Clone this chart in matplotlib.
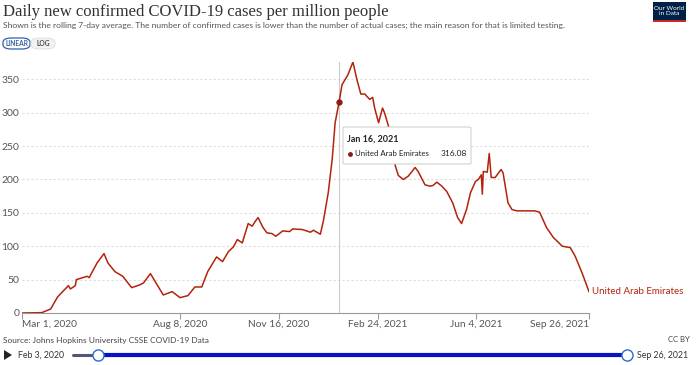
import matplotlib
matplotlib.use("Agg")
import matplotlib.pyplot as plt
from matplotlib.patches import FancyBboxPatch, Rectangle, Polygon
import pandas as pd

dates = [
    "2020-03-01", "2020-03-21", "2020-03-30", "2020-04-06", "2020-04-17", "2020-04-19",
    "2020-04-24", "2020-04-25", "2020-05-06", "2020-05-08", "2020-05-16", "2020-05-23",
    "2020-05-27", "2020-06-03", "2020-06-11", "2020-06-20", "2020-06-28", "2020-07-02",
    "2020-07-09", "2020-07-22", "2020-07-31", "2020-08-08", "2020-08-16", "2020-08-23",
    "2020-08-30", "2020-09-05", "2020-09-14", "2020-09-20", "2020-09-26", "2020-10-01",
    "2020-10-05", "2020-10-10", "2020-10-16", "2020-10-20", "2020-10-23", "2020-10-26",
    "2020-10-31", "2020-11-04", "2020-11-09", "2020-11-13", "2020-11-20", "2020-11-27",
    "2020-11-30", "2020-12-10", "2020-12-18", "2020-12-21", "2020-12-28", "2020-12-31",
    "2021-01-05", "2021-01-09", "2021-01-12", "2021-01-16", "2021-01-19", "2021-01-25",
    "2021-01-30", "2021-02-03", "2021-02-07", "2021-02-11", "2021-02-16", "2021-02-19",
    "2021-02-21", "2021-02-25", "2021-03-01", "2021-03-03", "2021-03-07", "2021-03-10",
    "2021-03-14", "2021-03-17", "2021-03-22", "2021-03-27", "2021-04-03", "2021-04-06",
    "2021-04-13", "2021-04-18", "2021-04-21", "2021-04-25", "2021-04-30", "2021-05-05",
    "2021-05-11", "2021-05-16", "2021-05-20", "2021-05-25", "2021-05-29", "2021-06-03",
    "2021-06-06", "2021-06-09", "2021-06-10", "2021-06-11", "2021-06-15", "2021-06-17",
    "2021-06-19", "2021-06-23", "2021-06-29", "2021-07-01", "2021-07-06", "2021-07-10",
    "2021-07-15", "2021-08-02", "2021-08-07", "2021-08-14", "2021-08-21", "2021-08-30",
    "2021-09-07", "2021-09-12", "2021-09-19", "2021-09-26",
]
cases = [
    0, 0.5, 6, 24, 41, 36,
    41, 50, 55, 53, 75, 89,
    75, 62, 55, 38, 42, 45,
    59, 27, 32, 23, 26, 39,
    39, 62, 84, 77, 92, 99,
    110, 105, 134, 130, 137, 143,
    128, 120, 119, 115, 123, 122,
    126, 125, 121, 124, 118, 137,
    180, 230, 285, 316.08, 342, 357,
    376, 350, 328, 328, 320, 323,
    307, 285, 307, 300, 280, 255,
    220, 206, 200, 205, 218, 212,
    192, 190, 191, 196, 190, 182,
    165, 143, 134, 155, 180, 197,
    200, 207, 178, 212, 211, 239,
    203, 203, 215, 210, 165, 155,
    153, 153, 151, 128, 113, 100,
    98, 85, 60, 32,
]
country = "United Arab Emirates"
hover_date = "2021-01-16"
hover_value = 316.08
xtick_dates = ["2020-03-01", "2020-08-08", "2020-11-16", "2021-02-24", "2021-06-04", "2021-09-26"]
xtick_labels = ["Mar 1, 2020", "Aug 8, 2020", "Nov 16, 2020", "Feb 24, 2021", "Jun 4, 2021", "Sep 26, 2021"]
yticks = [0, 50, 100, 150, 200, 250, 300, 350]

title = "Daily new confirmed COVID-19 cases per million people"
subtitle = ("Shown is the rolling 7-day average. The number of confirmed cases is lower than the "
            "number of actual cases; the main reason for that is limited testing.")
source = "Source: Johns Hopkins University CSSE COVID-19 Data"

W, H = 700, 365
LINE = "#b3230c"
GRAY = "#555555"
FONT = ["Lato", "DejaVu Sans"]

def fx(px):
    return px / W

def fy(py):
    return 1 - py / H

fig = plt.figure(figsize=(7, 3.65), dpi=100)
fig.patch.set_facecolor("white")

ax = fig.add_axes([fx(22), fy(313), fx(589) - fx(22), fy(62) - fy(313)])
d = pd.to_datetime(dates)
ax.plot(d, cases, color=LINE, lw=1.1, solid_joinstyle="round", zorder=3)
ax.set_xlim(pd.Timestamp(xtick_dates[0]), pd.Timestamp(xtick_dates[-1]))
ax.set_ylim(0, 376)

ax.set_yticks(yticks)
ax.set_yticklabels([str(v) for v in yticks], fontsize=7.5, color=GRAY, family=FONT)
ax.tick_params(axis="y", length=0, pad=2)
for v in yticks[1:]:
    ax.axhline(v, color="#dddddd", lw=0.8, ls=(0, (2, 2)), zorder=1)

xt = pd.to_datetime(xtick_dates)
ax.set_xticks(xt)
ax.set_xticklabels(xtick_labels, fontsize=7.3, color=GRAY, family=FONT)
labs = ax.get_xticklabels()
labs[0].set_ha("left")
labs[-1].set_ha("right")
ax.tick_params(axis="x", length=4, color="#999999", pad=1)

for s in ["top", "right", "left"]:
    ax.spines[s].set_visible(False)
ax.spines["bottom"].set_color("#999999")
ax.spines["bottom"].set_linewidth(0.8)

# hover line and point
hd = pd.Timestamp(hover_date)
ax.axvline(hd, color="#cccccc", lw=0.8, zorder=2)
ax.plot([hd], [hover_value], "o", color="#8b1a12", ms=3.5, zorder=4)

# end label
ax.text(pd.Timestamp(dates[-1]) + pd.Timedelta(days=3), cases[-1], country, color=LINE,
        fontsize=7, va="center", ha="left", family=FONT, clip_on=False)

# Title / subtitle
fig.text(fx(3), fy(12), title, fontsize=12, family=["Liberation Serif", "DejaVu Serif"],
         color="#333333", va="center", ha="left")
fig.text(fx(3), fy(25), subtitle, fontsize=6.1, family=FONT, color="#555555", va="center", ha="left")

# Linear/log buttons
fig.patches.append(FancyBboxPatch((fx(3), fy(49)), fx(30) - fx(3), fy(38) - fy(49),
                                  boxstyle="round,pad=0,rounding_size=0.012", transform=fig.transFigure,
                                  facecolor="white", edgecolor="#3360a9", lw=0.9))
fig.patches.append(FancyBboxPatch((fx(31), fy(49)), fx(55) - fx(31), fy(38) - fy(49),
                                  boxstyle="round,pad=0,rounding_size=0.012", transform=fig.transFigure,
                                  facecolor="#f2f2f2", edgecolor="#dddddd", lw=0.6))
fig.text(fx(16.5), fy(43.5), "LINEAR", fontsize=4.8, family=FONT, color="#3360a9",
         ha="center", va="center", weight="bold")
fig.text(fx(43), fy(43.5), "LOG", fontsize=4.8, family=FONT, color="#444444",
         ha="center", va="center", weight="bold")

# Logo
fig.patches.append(Rectangle((fx(653), fy(21)), fx(686) - fx(653), fy(2) - fy(21),
                             transform=fig.transFigure, facecolor="#002147", edgecolor="none"))
fig.patches.append(Rectangle((fx(653), fy(22)), fx(686) - fx(653), fy(20) - fy(22),
                             transform=fig.transFigure, facecolor="#ce261e", edgecolor="none"))
fig.text(fx(669.5), fy(11), "Our World\nin Data", fontsize=4.6, family=FONT, color="white",
         ha="center", va="center", linespacing=1.0)

# Tooltip
fig.patches.append(FancyBboxPatch((fx(343), fy(164)), fx(471) - fx(343), fy(127) - fy(164),
                                  boxstyle="round,pad=0,rounding_size=0.003", transform=fig.transFigure,
                                  facecolor="white", edgecolor="#cccccc", lw=0.7, zorder=10))
fig.text(fx(347), fy(139.5), "Jan 16, 2021", fontsize=6.5, family=FONT, weight="bold",
         color="#222222", ha="left", va="center", zorder=11)
fig.lines.append(plt.Line2D([fx(350)], [fy(153.5)], transform=fig.transFigure, marker="o",
                            ms=3.5, mfc="#8b1a12", mec="none", ls="none", zorder=11))
fig.text(fx(355), fy(153.5), country, fontsize=5.7, family=FONT, color="#222222",
         ha="left", va="center", zorder=11)
fig.text(fx(467), fy(153.5), f"{hover_value:.2f}", fontsize=6.0, family=FONT, color="#222222",
         ha="right", va="center", zorder=11)

# Footer
fig.text(fx(3), fy(340), source, fontsize=6.0, family=FONT, color="#444444", ha="left", va="center")
fig.text(fx(690), fy(340), "CC BY", fontsize=5.5, family=FONT, color="#444444", ha="right", va="center")

# Timeline
fig.patches.append(Polygon([(fx(4), fy(350)), (fx(4), fy(360)), (fx(12), fy(355))], closed=True,
                           transform=fig.transFigure, facecolor="#222222", edgecolor="none"))
fig.text(fx(18), fy(355), "Feb 3, 2020", fontsize=6.3, family=FONT, color="#333333", ha="left", va="center")
fig.text(fx(637), fy(355), "Sep 26, 2021", fontsize=6.3, family=FONT, color="#333333", ha="left", va="center")
fig.lines.append(plt.Line2D([fx(73), fx(98)], [fy(355), fy(355)], transform=fig.transFigure,
                            color="#555577", lw=2.2, solid_capstyle="round"))
fig.lines.append(plt.Line2D([fx(98), fx(627)], [fy(355), fy(355)], transform=fig.transFigure,
                            color="#0a12c8", lw=3.0))
for cx in (98, 627):
    fig.lines.append(plt.Line2D([fx(cx)], [fy(355)], transform=fig.transFigure, marker="o",
                                ms=8, mfc="white", mec="#2a6ad0", mew=1.0, ls="none"))

fig.savefig("out.png", dpi=100, facecolor="white")
